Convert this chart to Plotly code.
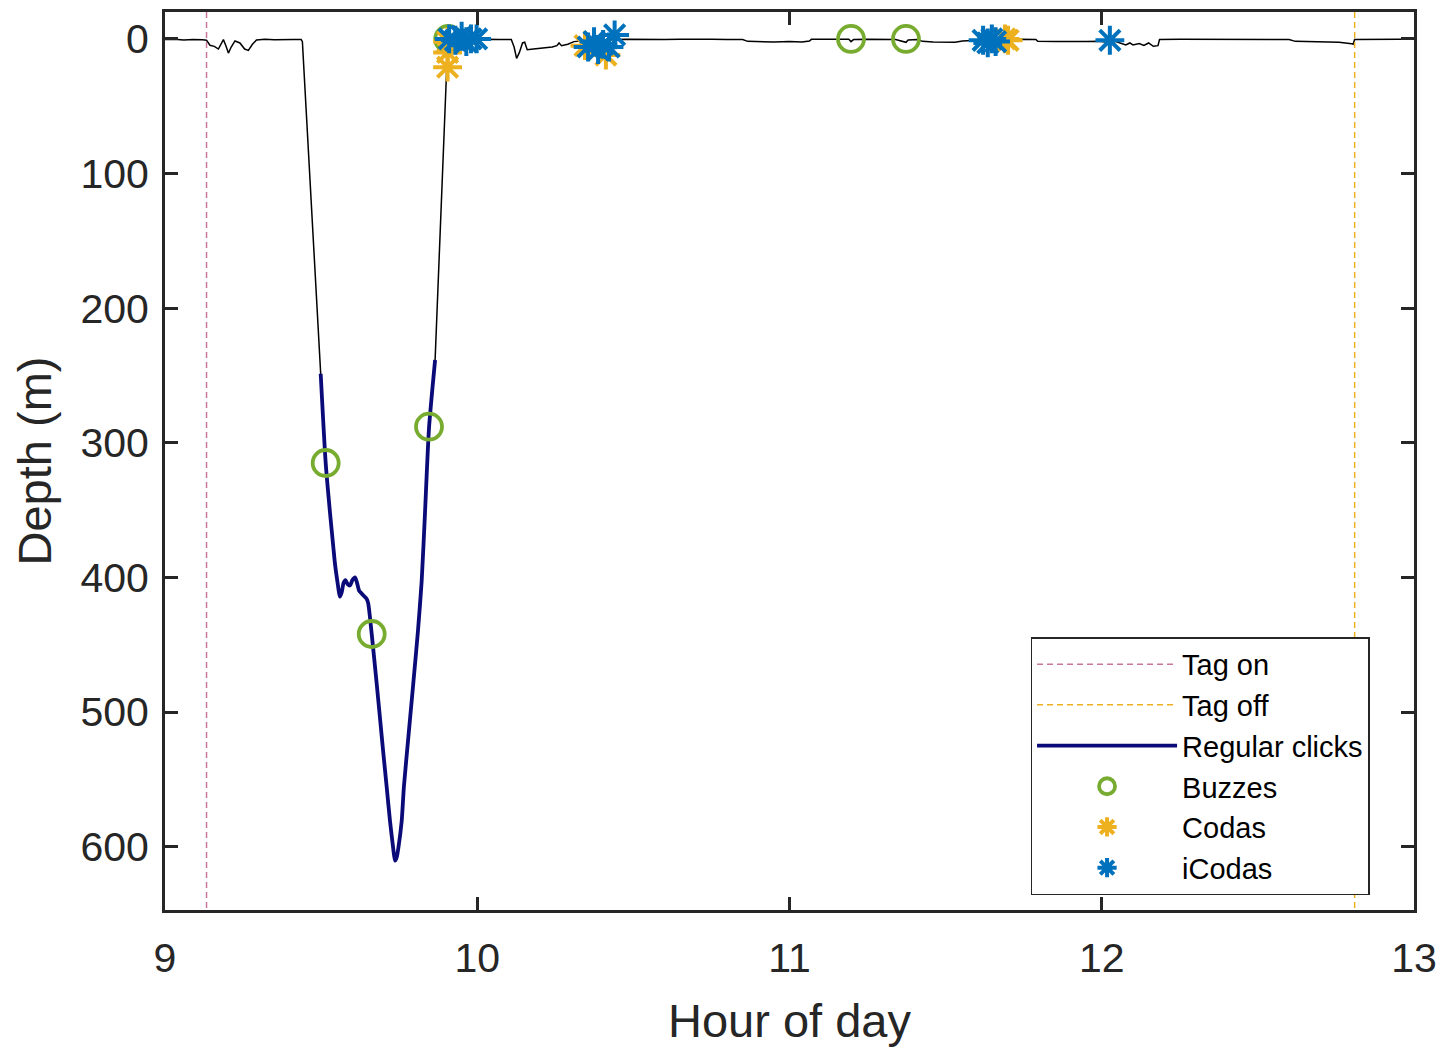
import plotly.graph_objects as go

# ---------------- data ----------------
# dive profile: hour of day, depth (m)
profile_hour = [
    9.000, 9.030, 9.060, 9.090, 9.120, 9.133, 9.144, 9.158, 9.171, 9.180, 9.187,
    9.195, 9.203, 9.212, 9.224, 9.240, 9.255, 9.267, 9.280, 9.293, 9.320, 9.350,
    9.380, 9.410, 9.436, 9.440, 9.4986,
    9.5146, 9.5284, 9.539, 9.5444, 9.552, 9.5604, 9.566, 9.572, 9.578, 9.585,
    9.5925, 9.600, 9.6085, 9.615, 9.622, 9.630, 9.638, 9.646, 9.651, 9.662,
    9.678, 9.6886, 9.699, 9.710, 9.7206, 9.731, 9.7366, 9.742, 9.747, 9.758,
    9.765, 9.780, 9.795, 9.810, 9.822, 9.8327, 9.8455, 9.865,
    9.885, 9.905, 9.912, 9.950, 10.000, 10.030, 10.070, 10.109, 10.118, 10.126,
    10.135, 10.145, 10.152, 10.160, 10.180, 10.200, 10.220, 10.240, 10.255,
    10.262, 10.270, 10.290, 10.310, 10.330, 10.360, 10.400, 10.440, 10.480,
    10.520, 10.560, 10.600, 10.650, 10.700, 10.750, 10.800, 10.850, 10.866,
    10.900, 10.950, 11.000, 11.040, 11.064, 11.070, 11.100, 11.150, 11.190,
    11.197, 11.205, 11.250, 11.300, 11.340, 11.373, 11.380, 11.410, 11.426,
    11.460, 11.500, 11.530, 11.554, 11.600, 11.650, 11.700, 11.736, 11.789,
    11.795, 11.850, 11.900, 11.950, 11.990, 12.020, 12.040, 12.060, 12.077,
    12.090, 12.100, 12.120, 12.135, 12.150, 12.165, 12.180, 12.185, 12.250,
    12.350, 12.450, 12.550, 12.600, 12.620, 12.700, 12.760, 12.800, 12.805,
    12.810, 12.850, 12.900, 12.950, 13.000,
]
profile_depth = [
    0.5, 0.3, 0.8, 0.4, 0.6, 1.0, 4.7, 5.5, 7.5, 3.0, 0.5,
    5.0, 10.5, 6.0, 1.5, 3.0, 7.5, 8.5, 4.0, 0.8, 0.2, 0.6,
    0.3, 0.5, 0.4, 2.0, 248.7,
    314.9, 351.8, 377.3, 390.0, 402.8, 414.3, 411.0, 404.0, 402.0, 405.0,
    406.0, 402.0, 400.0, 404.0, 410.0, 412.0, 414.0, 416.0, 419.5, 442.0,
    479.0, 504.7, 530.0, 555.7, 581.0, 601.5, 610.4, 608.0, 601.5, 581.0,
    555.7, 517.0, 479.0, 440.0, 402.8, 351.8, 289.0, 238.5,
    120.0, 5.0, 0.5, 0.3, 0.5, 0.2, 0.4, 0.5, 6.0, 14.5,
    10.0, 3.0, 2.5, 8.0, 7.5, 7.0, 7.0, 6.0, 5.0,
    3.0, 5.0, 4.0, 2.0, 1.5, 1.0, 1.5, 0.5, 0.3,
    0.5, 0.2, 0.4, 0.2, 0.5, 0.3, 0.4, 0.5, 1.8,
    2.0, 2.2, 2.0, 2.2, 1.5, 0.3, 0.2, 0.5, 0.3,
    2.0, 0.5, 0.3, 0.5, 0.4, 2.5, 0.8, 0.5, 1.8,
    2.2, 2.0, 2.4, 1.5, 1.0, 1.5, 0.5, 0.3, 0.4,
    1.8, 2.0, 2.2, 2.0, 1.8, 2.5, 1.5, 3.0, 4.5,
    3.0, 4.5, 3.5, 4.8, 3.0, 5.5, 5.0, 0.5, 0.3,
    0.5, 0.2, 0.4, 0.5, 1.8, 2.3, 2.5, 3.5, 4.0,
    0.5, 0.3, 0.4, 0.2, 0.3,
]

# regular clicks period (hours)
clicks_start = 9.4986
clicks_end = 9.865

# tag on / off times (hours)
tag_on = 9.133
tag_off = 12.81

# buzzes
buzz_hour = [9.5146, 9.662, 9.8455, 9.907, 11.197, 11.373]
buzz_depth = [315, 442, 288, 0, 0, 0]

# codas
coda_hour = [9.905, 9.905, 9.905, 10.345, 10.412, 11.690, 11.700]
coda_depth = [2, 10, 21, 5, 12, 0, 1]

# iCodas
icoda_hour = [9.910, 9.930, 9.950, 9.965, 9.980, 9.998,
              10.355, 10.374, 10.387, 10.403, 10.422, 10.440,
              11.620, 11.635, 11.648, 11.660, 12.026]
icoda_depth = [0, 1, -2, 2, 0, 0,
               6, 2, 8, 4, 6, -3,
               1, 3, 0, 2, 1]

x_ticks = [9, 10, 11, 12, 13]
y_ticks = [0, 100, 200, 300, 400, 500, 600]
x_range = [9, 13]
y_range = [647, -20]

# ---------------- figure ----------------
FONT = "Arial, Liberation Sans, Helvetica, sans-serif"
AX = "#262626"

clk_h = [h for h in profile_hour if clicks_start <= h <= clicks_end]
clk_d = [d for h, d in zip(profile_hour, profile_depth) if clicks_start <= h <= clicks_end]

fig = go.Figure()

fig.add_trace(go.Scatter(x=profile_hour, y=profile_depth, mode="lines",
                         line=dict(color="black", width=1.5), showlegend=False,
                         hoverinfo="skip"))
fig.add_trace(go.Scatter(x=[tag_on, tag_on], y=[y_range[1], y_range[0]], mode="lines",
                         name="Tag on", line=dict(color="#C8789C", width=1.5, dash="6px,4px")))
fig.add_trace(go.Scatter(x=[tag_off, tag_off], y=[y_range[1], y_range[0]], mode="lines",
                         name="Tag off", line=dict(color="#EDB120", width=1.5, dash="6px,4px")))
fig.add_trace(go.Scatter(x=clk_h, y=clk_d, mode="lines", name="Regular clicks",
                         line=dict(color="#0A0A78", width=3.8, shape="spline", smoothing=0.6)))
fig.add_trace(go.Scatter(x=buzz_hour, y=buzz_depth, mode="markers", name="Buzzes",
                         marker=dict(symbol="circle-open", size=26, color="#77AC30",
                                     line=dict(width=3.8, color="#77AC30"))))
fig.add_trace(go.Scatter(x=coda_hour, y=coda_depth, mode="markers", name="Codas",
                         marker=dict(symbol="asterisk-open", size=24, color="#EDB120",
                                     line=dict(width=4, color="#EDB120"))))
fig.add_trace(go.Scatter(x=icoda_hour, y=icoda_depth, mode="markers", name="iCodas",
                         marker=dict(symbol="asterisk-open", size=24, color="#0072BD",
                                     line=dict(width=4, color="#0072BD"))))

axis_common = dict(ticks="inside", ticklen=13, tickwidth=3, tickcolor=AX,
                   showline=True, linewidth=3, linecolor=AX, mirror="allticks",
                   showgrid=False, zeroline=False,
                   tickfont=dict(family=FONT, size=41, color=AX))

fig.update_layout(
    width=1446, height=1047,
    margin=dict(l=165, r=32, t=9, b=137),
    plot_bgcolor="white", paper_bgcolor="white",
    xaxis=dict(range=x_range, tickvals=x_ticks, ticklabelstandoff=10,
               title=dict(text="Hour of day", font=dict(family=FONT, size=47, color=AX),
                          standoff=24),
               **axis_common),
    yaxis=dict(range=y_range, tickvals=y_ticks, ticklabelstandoff=5,
               title=dict(text="Depth (m)", font=dict(family=FONT, size=47, color=AX),
                          standoff=14),
               **axis_common),
    legend=dict(x=0.693, y=0.3037, xanchor="left", yanchor="top",
                bgcolor="white", bordercolor=AX, borderwidth=1.5,
                font=dict(family=FONT, size=29, color="black"),
                itemwidth=140, tracegroupgap=0),
    showlegend=True,
)

fig.write_html("out.html")
